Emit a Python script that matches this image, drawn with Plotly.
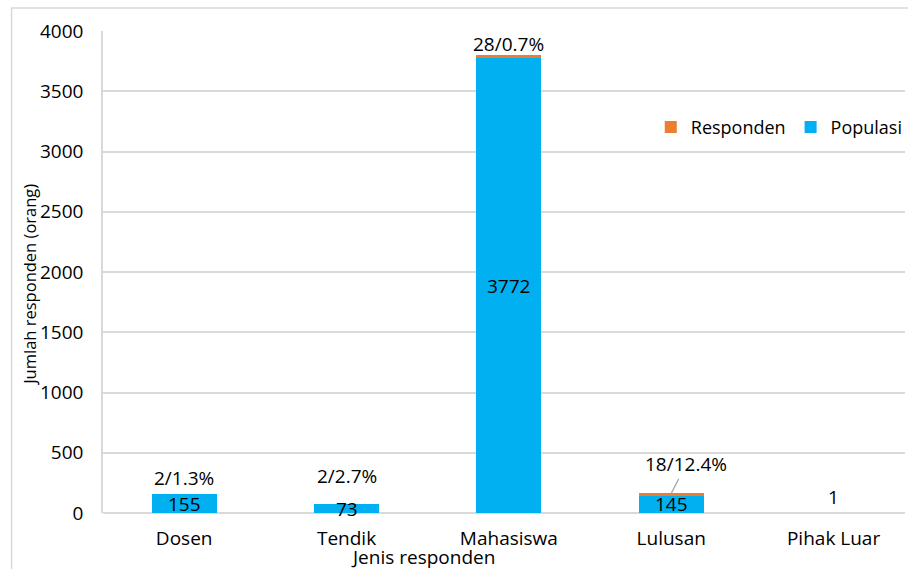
import plotly.graph_objects as go

kategori = ['Dosen', 'Tendik', 'Mahasiswa', 'Lulusan', 'Pihak Luar']
populasi = [155, 73, 3772, 145, 0]
responden = [2, 2, 28, 18, 1]
y_ticks = [0, 500, 1000, 1500, 2000, 2500, 3000, 3500, 4000]

# label posisi (px di atas puncak batang)
label_shift = [16, 28, 11, 29, 16]

font = 'Open Sans'
fs = 19
fig = go.Figure()
fig.add_trace(go.Bar(x=kategori, y=populasi, name='Populasi',
                     marker=dict(color='#00B0F0', line=dict(width=0)), width=0.4))
# potongan < 1 px tidak tampak di grafik asli
fig.add_trace(go.Bar(x=kategori, y=responden, name='Responden',
                     marker=dict(color='#ED7D31', line=dict(width=0),
                                 opacity=[0, 0, 1, 1, 0]), width=0.4))

ann = []
for i, k in enumerate(kategori):
    p, r = populasi[i], responden[i]
    top = p + r
    if p > 0:
        txt = '%d/%.1f%%' % (r, 100.0 * r / p)
        ann.append(dict(x=k, y=p / 2, text=str(p), showarrow=False,
                        font=dict(size=fs, color='black', family=font)))
    else:
        txt = str(r)
    if k == 'Lulusan':
        ann.append(dict(x=k, y=top, text=txt, showarrow=True, arrowhead=0,
                        arrowwidth=1.2, arrowcolor='#A6A6A6', ax=15, ay=-label_shift[i],
                        standoff=0, font=dict(size=fs, color='black', family=font)))
    else:
        ann.append(dict(x=k, y=top, text=txt, showarrow=False, yshift=label_shift[i],
                        font=dict(size=fs, color='black', family=font)))

ann.append(dict(xref='paper', yref='paper', x=-0.0925, y=0.473, xanchor='center',
                yanchor='middle', text='Jumlah responden (orang)', textangle=-90,
                showarrow=False, font=dict(size=16.5, color='black', family=font)))
ann.append(dict(xref='paper', yref='paper', x=0.399, y=-0.092, xanchor='center',
                yanchor='middle', text='Jenis responden', showarrow=False,
                font=dict(size=fs, color='black', family=font)))

fig.update_layout(
    barmode='stack',
    width=908, height=569,
    margin=dict(l=103, r=0, t=31, b=56),
    paper_bgcolor='white', plot_bgcolor='white',
    font=dict(family=font, size=fs, color='black'),
    annotations=ann,
    legend=dict(orientation='h', x=0.683, y=0.80, xanchor='left', yanchor='middle',
                traceorder='reversed', font=dict(size=18, family=font),
                bgcolor='rgba(0,0,0,0)', itemwidth=30),
    shapes=[dict(type='rect', xref='paper', yref='paper', x0=-0.114, x1=1.2,
                 y0=-0.3, y1=1.0477, line=dict(color='#D9D9D9', width=1.5), layer='below')],
)
fig.update_xaxes(range=[-0.5, 4.44], showgrid=False, showline=False, ticks='',
                 ticklabelstandoff=12, tickfont=dict(size=fs, family=font))
fig.update_yaxes(range=[0, 4000], tickvals=y_ticks, showgrid=True, gridcolor='#D9D9D9',
                 gridwidth=1.5, zeroline=True, zerolinecolor='#D9D9D9', zerolinewidth=1.5,
                 showline=True, linecolor='#D9D9D9', linewidth=1.5,
                 ticks='', ticklabelstandoff=14, tickfont=dict(size=fs, family=font))

fig.write_html('out.html', config={'displayModeBar': False},
               post_script="document.body.style.margin='0px';")
